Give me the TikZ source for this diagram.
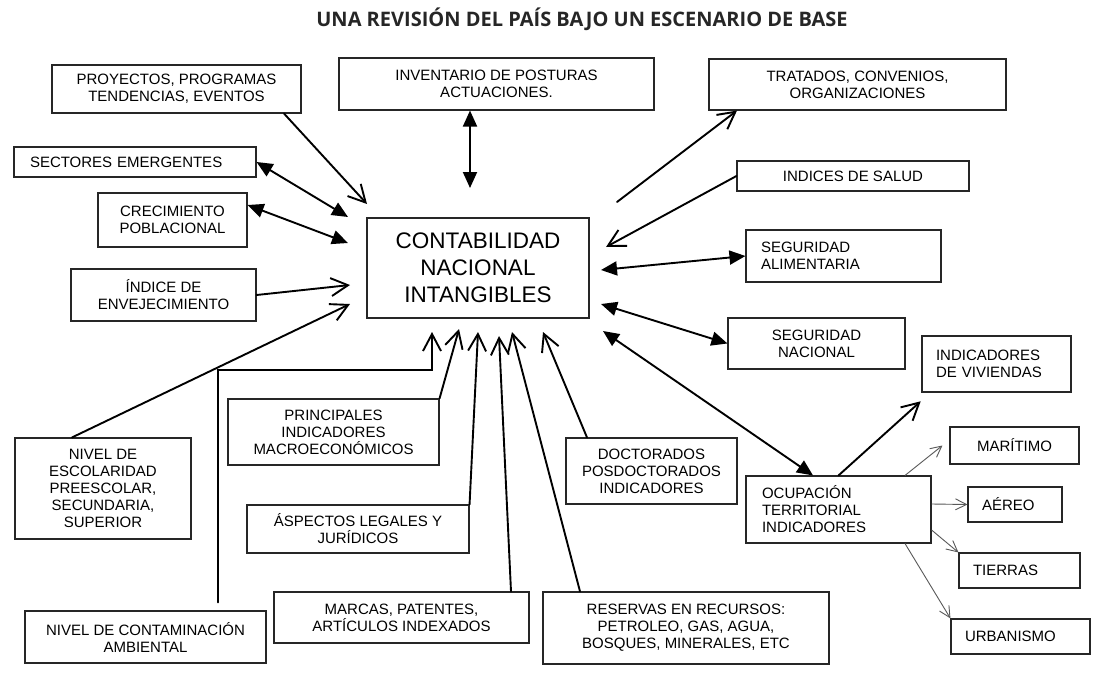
\documentclass[tikz,border=0pt]{standalone}
\usepackage{fontspec}
\setmainfont{Liberation Sans}
\newfontfamily\titlefont{Open Sans}
\usetikzlibrary{arrows.meta}
\begin{document}
\begin{tikzpicture}[x=1pt,y=-1pt,
 box/.style={draw=black!85, line width=1.1pt, inner sep=0pt, align=center, font=\fontsize{15}{17}\selectfont},
 lbox/.style={box, align=left},
 ln/.style={line width=1.9pt, line cap=round},
 oh/.style={ln, -{Straight Barb[length=17pt,width=18pt]}},
 fh/.style={ln, {Triangle[length=16pt,width=14pt]}-{Triangle[length=16pt,width=14pt]}},
 th/.style={line width=0.9pt, draw=black!65, -{Straight Barb[length=11pt,width=11pt]}},
]
\fill[white] (0,0) rectangle (1094,682);
\useasboundingbox (0,0) rectangle (1094,682);

\node[font=\titlefont\bfseries\fontsize{20}{24}\selectfont, text=black!85] (title) at (582,19.5) {UNA REVISIÓN DEL PAÍS BAJO UN ESCENARIO DE BASE};

\node[box, minimum width=249pt, minimum height=48pt] (proy) at (176.5,89) {PROYECTOS, PROGRAMAS\\TENDENCIAS, EVENTOS};
\node[lbox, text width=210pt, inner xsep=16pt, minimum height=30pt] (sect) at (135,162) {SECTORES EMERGENTES};
\node[box, minimum width=149pt, minimum height=54pt] (crec) at (172.5,220) {CRECIMIENTO\\POBLACIONAL};
\node[box, minimum width=185pt, minimum height=52pt] (indice) at (163.5,295) {ÍNDICE DE\\ENVEJECIMIENTO};
\node[box, minimum width=315pt, minimum height=52pt] (inv) at (496.5,84) {INVENTARIO DE POSTURAS\\ACTUACIONES.};
\node[box, minimum width=297pt, minimum height=51pt] (trat) at (857.5,84.5) {TRATADOS, CONVENIOS,\\ORGANIZACIONES};
\node[box, minimum width=232pt, minimum height=30pt] (salud) at (853,176) {INDICES DE SALUD};
\node[lbox, text width=165pt, inner xsep=15pt, minimum height=52pt] (segal) at (843.5,256) {SEGURIDAD\\ALIMENTARIA};
\node[box, minimum width=177pt, minimum height=51pt] (segnac) at (816.5,343.5) {SEGURIDAD\\NACIONAL};
\node[lbox, line width=2.6pt, text width=121pt, inner xsep=14pt, minimum height=56pt] (viv) at (996.5,364) {INDICADORES\\DE VIVIENDAS};
\node[lbox, text width=75pt, inner xsep=27pt, minimum height=37pt] (mar) at (1014.5,445.5) {MARÍTIMO};
\node[lbox, text width=66pt, inner xsep=14pt, minimum height=35pt] (aereo) at (1015,504.5) {AÉREO};
\node[lbox, text width=93pt, inner xsep=14pt, minimum height=35pt] (tierras) at (1019.5,570.5) {TIERRAS};
\node[lbox, text width=111pt, inner xsep=14pt, minimum height=35pt] (urb) at (1020.5,636.5) {URBANISMO};
\node[lbox, text width=153pt, inner xsep=16pt, minimum height=67pt] (ocup) at (838.5,509.5) {OCUPACIÓN\\TERRITORIAL\\INDICADORES};
\node[box, minimum width=222pt, minimum height=100pt, font=\fontsize{22.5}{27}\selectfont] (cont) at (478,268) {CONTABILIDAD\\NACIONAL\\INTANGIBLES};
\node[box, minimum width=176pt, minimum height=101pt] (escol) at (103,488.5) {NIVEL DE\\ESCOLARIDAD\\PREESCOLAR,\\SECUNDARIA,\\SUPERIOR};
\node[box, minimum width=241pt, minimum height=52pt] (contam) at (145.5,637) {NIVEL DE CONTAMINACIÓN\\AMBIENTAL};
\node[box, minimum width=211pt, minimum height=66pt] (princ) at (333.5,432) {PRINCIPALES\\INDICADORES\\MACROECONÓMICOS};
\node[box, minimum width=222pt, minimum height=48pt] (asp) at (358,529) {ÁSPECTOS LEGALES Y\\JURÍDICOS};
\node[box, minimum width=255pt, minimum height=51pt] (marcas) at (401.5,617.5) {MARCAS, PATENTES,\\ARTÍCULOS INDEXADOS};
\node[box, minimum width=286pt, minimum height=72pt] (reserv) at (686,628) {RESERVAS EN RECURSOS:\\PETROLEO, GAS, AGUA,\\BOSQUES, MINERALES, ETC};
\node[box, minimum width=171pt, minimum height=66pt] (doct) at (651.5,471) {DOCTORADOS\\POSDOCTORADOS\\INDICADORES};

\coordinate (tA) at (367,204);
\coordinate (tB) at (348,217);
\coordinate (tC) at (348,243);
\coordinate (tD) at (350,285);
\coordinate (tE) at (350,304);
\coordinate (cF) at (432,370);
\coordinate (tF) at (432,332);
\coordinate (tG) at (459,329);
\coordinate (tH) at (478,332);
\coordinate (tI) at (499,336);
\coordinate (tJ) at (512,332);
\coordinate (tK) at (543,332);
\coordinate (tL) at (603,331);
\coordinate (tM) at (601,304);
\coordinate (tN) at (601,270);
\coordinate (tO) at (606,247);
\coordinate (sP) at (617,202);
\coordinate (tQ) at (470,188);

\draw[oh] ([xshift=107.5pt]proy.south) -- (tA);
\draw[fh] (sect.east) -- (tB);
\draw[fh] ([yshift=15pt]crec.east) -- (tC);
\draw[oh] (indice.east) -- (tD);
\draw[oh] ([xshift=-31pt]escol.north) -- (tE);
\draw[oh] ([xshift=72.5pt,yshift=8pt]contam.north) |- (cF) -- (tF);
\draw[oh] (princ.north east) -- (tG);
\draw[oh] (asp.north east) -- (tH);
\draw[oh] ([xshift=109.5pt]marcas.north) -- (tI);
\draw[oh] ([xshift=-106pt]reserv.north) -- (tJ);
\draw[oh] ([xshift=-64.5pt]doct.north) -- (tK);
\draw[fh] ([xshift=-25.5pt]ocup.north) -- (tL);
\draw[fh] (segnac.west) -- (tM);
\draw[fh] (segal.west) -- (tN);
\draw[oh] (salud.west) -- (tO);
\draw[oh] (sP) -- ([xshift=-120.5pt]trat.south);
\draw[fh] ([xshift=-26.5pt]inv.south) -- (tQ);
\draw[oh] (ocup.north) -- ([yshift=-8pt]viv.south west);
\draw[th] ([xshift=66.5pt]ocup.north) -- ([xshift=-7pt]mar.west);
\draw[th] ([yshift=5.5pt]ocup.east) -- (aereo.west);
\draw[th] ([yshift=-20.5pt]ocup.east) -- (tierras.north west);
\draw[th] ([xshift=66.5pt]ocup.south) -- (urb.north west);
\end{tikzpicture}
\end{document}
